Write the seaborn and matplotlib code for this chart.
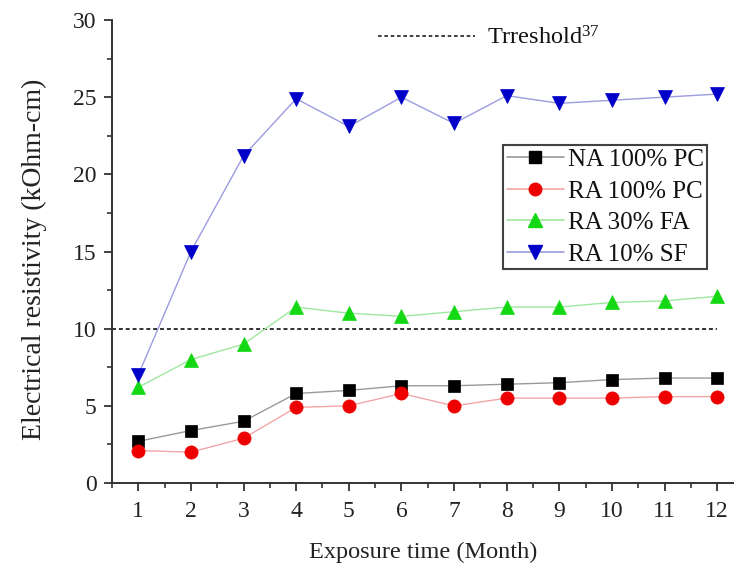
import numpy as np
import pandas as pd
import matplotlib
matplotlib.use("Agg")
import matplotlib.pyplot as plt
import seaborn as sns
from matplotlib.lines import Line2D

# Exposure time (months) and resistivity readings (kOhm-cm)
months = [1, 2, 3, 4, 5, 6, 7, 8, 9, 10, 11, 12]
na_100_pc = [2.7, 3.4, 4.0, 5.8, 6.0, 6.3, 6.3, 6.4, 6.5, 6.7, 6.8, 6.8]
ra_100_pc = [2.1, 2.0, 2.9, 4.9, 5.0, 5.8, 5.0, 5.5, 5.5, 5.5, 5.6, 5.6]
ra_30_fa = [6.2, 8.0, 9.0, 11.4, 11.0, 10.8, 11.1, 11.4, 11.4, 11.7, 11.8, 12.1]
ra_10_sf = [7.0, 15.0, 21.2, 24.9, 23.1, 25.0, 23.3, 25.1, 24.6, 24.8, 25.0, 25.2]
threshold = 10
series_names = ["NA 100% PC", "RA 100% PC", "RA 30% FA", "RA 10% SF"]
y_ticks = [0, 5, 10, 15, 20, 25, 30]

sns.set_theme(style="ticks")
plt.rcParams["font.family"] = ["Liberation Serif", "DejaVu Serif"]
plt.rcParams["mathtext.fontset"] = "custom"
plt.rcParams["mathtext.rm"] = "Liberation Serif"
plt.rcParams["mathtext.default"] = "regular"

fig = plt.figure(figsize=(7.34, 5.66), dpi=100)
ax = fig.add_axes([112 / 734, 1 - 483 / 566, 1 - 112 / 734, (483 - 20) / 566])

styles = [
    (na_100_pc, "#9a9a9a", "#000000", "s", 9.0),
    (ra_100_pc, "#f2a6a6", "#ee0000", "o", 9.5),
    (ra_30_fa, "#9fe89f", "#14d814", "^", 10.0),
    (ra_10_sf, "#9c9ce0", "#0000c8", "v", 10.0),
]

handles = []
for name, (vals, lc, mc, mk, ms) in zip(series_names, styles):
    df = pd.DataFrame({"month": months, "value": vals})
    sns.lineplot(data=df, x="month", y="value", ax=ax, color=lc, lw=1.0,
                 marker=mk, markersize=ms, markerfacecolor=mc,
                 markeredgecolor=mc, markeredgewidth=0.5, zorder=3)
    handles.append(Line2D([], [], color=lc, lw=1.2, marker=mk, markersize=ms - 0.5,
                          markerfacecolor=mc, markeredgecolor=mc, label=name))

# Threshold line across the exposure period
ax.plot([0.5, 12], [threshold, threshold], color="#222222", lw=1.3,
        ls=(0, (2.2, 1.6)), zorder=2)

ax.set_xlim(0.5, 12.32)
ax.set_ylim(0, 30)
ax.set_xticks(months)
ax.set_xticks(np.arange(0.5, 12.5, 0.5), minor=True)
ax.set_yticks(y_ticks)
ax.set_yticks(np.arange(2.5, 30, 5), minor=True)
ax.tick_params(axis="both", which="major", direction="out", length=6, width=1.3,
               color="#333333", labelsize=17, labelcolor="#222222", pad=5)
ax.tick_params(axis="x", which="major", pad=7)
ax.tick_params(axis="both", which="minor", direction="out", length=3.5, width=1.2,
               color="#333333")
for side in ["top", "right"]:
    ax.spines[side].set_visible(False)
for side in ["left", "bottom"]:
    ax.spines[side].set_linewidth(1.4)
    ax.spines[side].set_color("#333333")

ax.set_xlabel("Exposure time (Month)", fontsize=17.5, color="#222222", labelpad=14)
ax.set_ylabel("Electrical resistivity (kOhm-cm)", fontsize=20, color="#222222")
ax.yaxis.set_label_coords(-0.104, 0.484)

leg = ax.legend(handles=handles, loc="upper right", bbox_to_anchor=(0.957, 0.730),
                borderaxespad=0, fontsize=18, frameon=True, fancybox=False,
                handlelength=2.3, handletextpad=0.15, labelspacing=0.36,
                borderpad=0.14)
leg.get_frame().set_edgecolor("#111111")
leg.get_frame().set_linewidth(1.5)
for t in leg.get_texts():
    t.set_color("#111111")
ax.add_artist(leg)

thr_handle = Line2D([], [], color="#222222", lw=1.2, ls=(0, (2.2, 1.6)))
leg2 = ax.legend(handles=[thr_handle], labels=["Trreshold$^{37}$"], loc="center left",
                 bbox_to_anchor=(0.412, 0.962), borderaxespad=0, fontsize=17.5,
                 frameon=False, handlelength=4.0, handletextpad=0.5)
for t in leg2.get_texts():
    t.set_color("#111111")

fig.savefig("out.png", dpi=100)
